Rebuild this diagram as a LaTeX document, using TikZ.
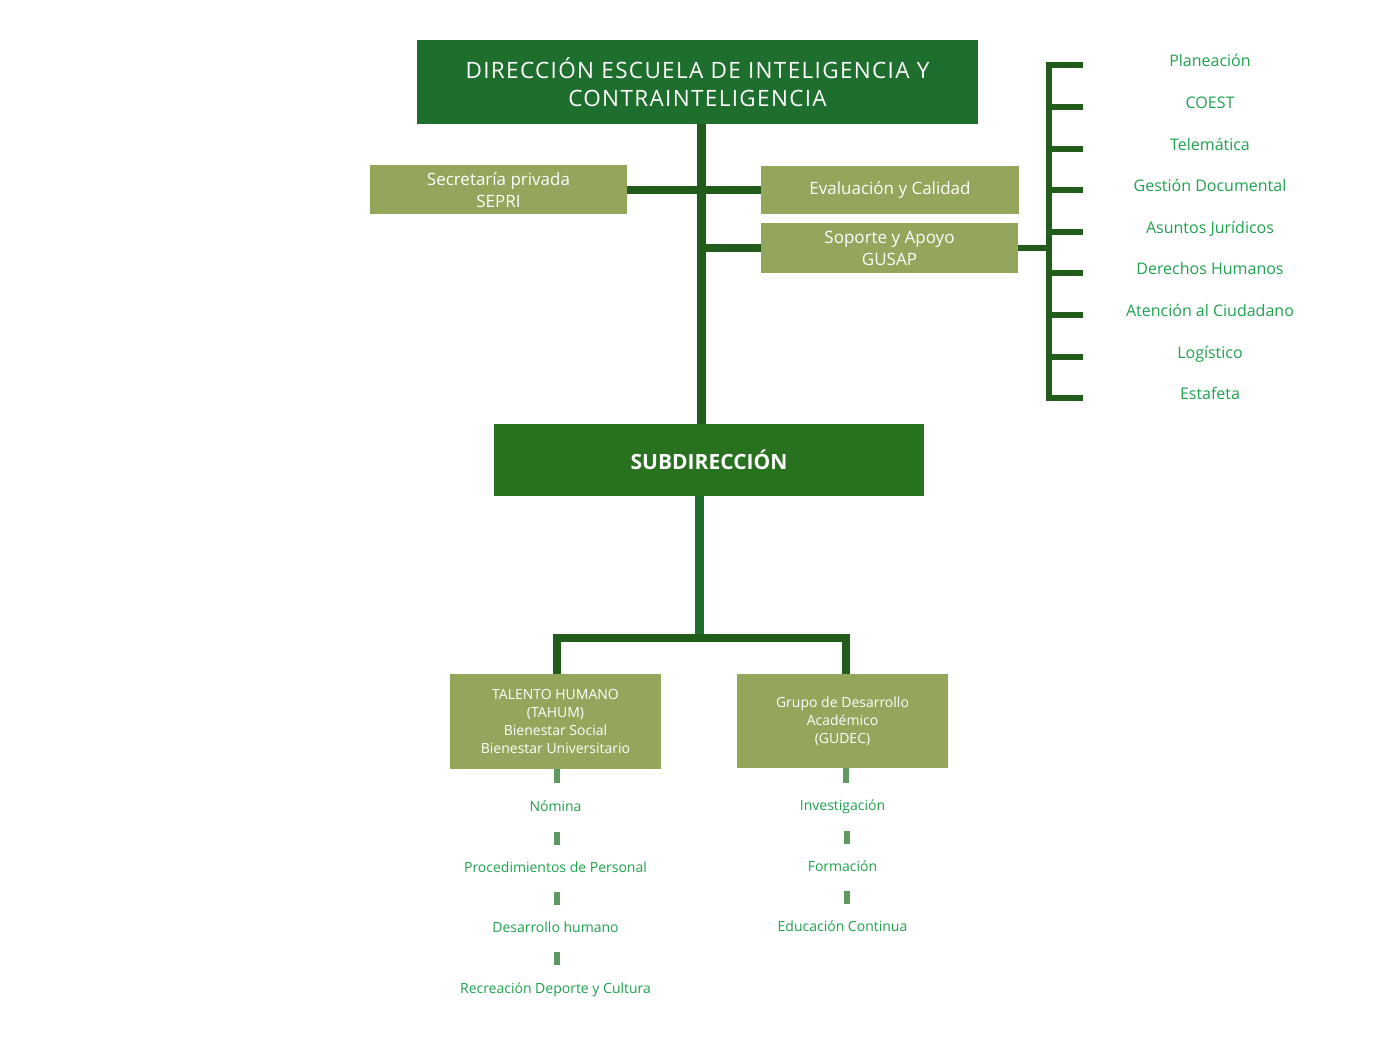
\documentclass[tikz,border=0pt]{standalone}
\usepackage{fontspec}
\setmainfont{Open Sans}
\newfontfamily\titlefont{Open Sans}[LetterSpace=6]
\usetikzlibrary{positioning}
\usetikzlibrary{calc}
\definecolor{dirgreen}{HTML}{1E6F2D}
\definecolor{subgreen}{HTML}{28711F}
\definecolor{olivebox}{HTML}{94A65B}
\definecolor{trunkgreen}{HTML}{225C1A}
\definecolor{labelgreen}{HTML}{1FA24E}
\definecolor{stubgreen}{HTML}{5E9960}

\begin{document}
\begin{tikzpicture}
  [x=1pt, y=-1pt,
   box/.style={rectangle, fill=olivebox, text=white, align=center, inner sep=0pt},
   unit/.style={text=labelgreen, font=\fontsize{16}{19}\selectfont, inner sep=0pt, text height=12pt, text depth=2pt},
   area/.style={text=labelgreen, font=\fontsize{14}{17}\selectfont, inner sep=0pt, text height=10pt, text depth=2pt},
   trunkline/.style={draw=trunkgreen, line width=9pt},
   tick/.style={draw=trunkgreen, line width=6pt},
   stub/.style={draw=stubgreen, line width=6pt}]
  \useasboundingbox (0,0) rectangle (1400,1048);

  % top level
  \node (dir) [fill=dirgreen, text=white, align=center, minimum width=561pt, minimum height=84pt,
    font=\titlefont\fontsize{22.5}{28}\selectfont] at (697.5,82) {DIRECCIÓN ESCUELA DE INTELIGENCIA Y\\CONTRAINTELIGENCIA};
  \node (sepri) [box, minimum width=257pt, minimum height=49pt, font=\fontsize{17}{22}\selectfont] at (498.5,190) {Secretaría privada\\SEPRI};
  \node (eval) [box, minimum width=258pt, minimum height=48pt, font=\fontsize{17}{22}\selectfont] at (890,190) {Evaluación y Calidad};
  \node (gusap) [box, minimum width=257pt, minimum height=50pt, font=\fontsize{17}{22}\selectfont] at (889.5,248) {Soporte y Apoyo\\GUSAP};
  \node (sub) [fill=subgreen, text=white, minimum width=430pt, minimum height=72pt,
    font=\bfseries\fontsize{21}{26}\selectfont] at (709,460) {SUBDIRECCIÓN};

  % groups under subdireccion
  \node (tahum) [box, minimum width=211pt, minimum height=95pt, font=\fontsize{14}{18}\selectfont] at (555.5,721.5)
    {TALENTO HUMANO\\(TAHUM)\\Bienestar Social\\Bienestar Universitario};
  \node (gudec) [box, minimum width=211pt, minimum height=94pt, font=\fontsize{14}{18}\selectfont] at (842.5,721)
    {Grupo de Desarrollo\\Académico\\(GUDEC)};

  % support units
  \node (plan) [unit] at (1210,62) {Planeación};
  \node (coest) [unit, below=27.2pt of plan] {COEST};
  \node (tele) [unit, below=27.2pt of coest] {Telemática};
  \node (gdoc) [unit, below=27.2pt of tele] {Gestión Documental};
  \node (juri) [unit, below=27.2pt of gdoc] {Asuntos Jurídicos};
  \node (ddhh) [unit, below=27.2pt of juri] {Derechos Humanos};
  \node (ciud) [unit, below=27.2pt of ddhh] {Atención al Ciudadano};
  \node (logi) [unit, below=27.2pt of ciud] {Logístico};
  \node (esta) [unit, below=27.2pt of logi] {Estafeta};

  % areas
  \node (nom) [area, below=32.5pt of tahum] {Nómina};
  \node (proc) [area, below=48pt of nom] {Procedimientos de Personal};
  \node (dhum) [area, below=48pt of proc] {Desarrollo humano};
  \node (recr) [area, below=48pt of dhum] {Recreación Deporte y Cultura};
  \node (inv) [area, below=32.5pt of gudec] {Investigación};
  \node (form) [area, below=48pt of inv] {Formación};
  \node (educ) [area, below=48pt of form] {Educación Continua};

  % connectors
  \coordinate (spine) at ([xshift=3.5pt]dir.south);
  \coordinate (brkx) at (1049,0);
  \coordinate (tipx) at (1083,0);
  \coordinate (fork) at (699.5,637.5);
  \draw[trunkline] (spine) -- (spine |- sub.north);
  \draw[trunkline, line width=8.5pt] (sepri.east) -- (eval.west);
  \draw[trunkline, line width=8pt] (gusap.west) -- (gusap.west -| spine);
  \draw[tick] (gusap.east) -- (gusap.east -| brkx);
  \foreach \n in {plan,coest,tele,gdoc,juri,ddhh,ciud,logi,esta}
    \coordinate (tk\n) at ([yshift=-3.5pt]\n.center);
  \draw[tick] (tkplan -| tipx) -- (tkplan -| brkx) -- (tkesta -| brkx) -- (tkesta -| tipx);
  \foreach \n in {coest,tele,gdoc,juri,ddhh,ciud,logi}
    \draw[tick] (tk\n -| brkx) -- (tk\n -| tipx);

  \draw[trunkline, draw=dirgreen] ([xshift=-9.5pt]sub.south) -- (fork);
  \draw[trunkline, line width=8pt] ([xshift=1.5pt]tahum.north) |- (fork) -| ([xshift=3.5pt]gudec.north);

  \draw[stub] ([xshift=1.5pt]tahum.south) -- ++(0,14);
  \draw[stub] ([xshift=3.5pt]gudec.south) -- ++(0,15);
  \foreach \a/\b in {nom/proc, proc/dhum, dhum/recr}
    \draw[stub] ($(\a)!.5!(\b)$) ++(1.5,-6.5) -- ++(0,13);
  \foreach \a/\b in {inv/form, form/educ}
    \draw[stub] ($(\a)!.5!(\b)$) ++(4.5,-6.5) -- ++(0,13);
\end{tikzpicture}
\end{document}
